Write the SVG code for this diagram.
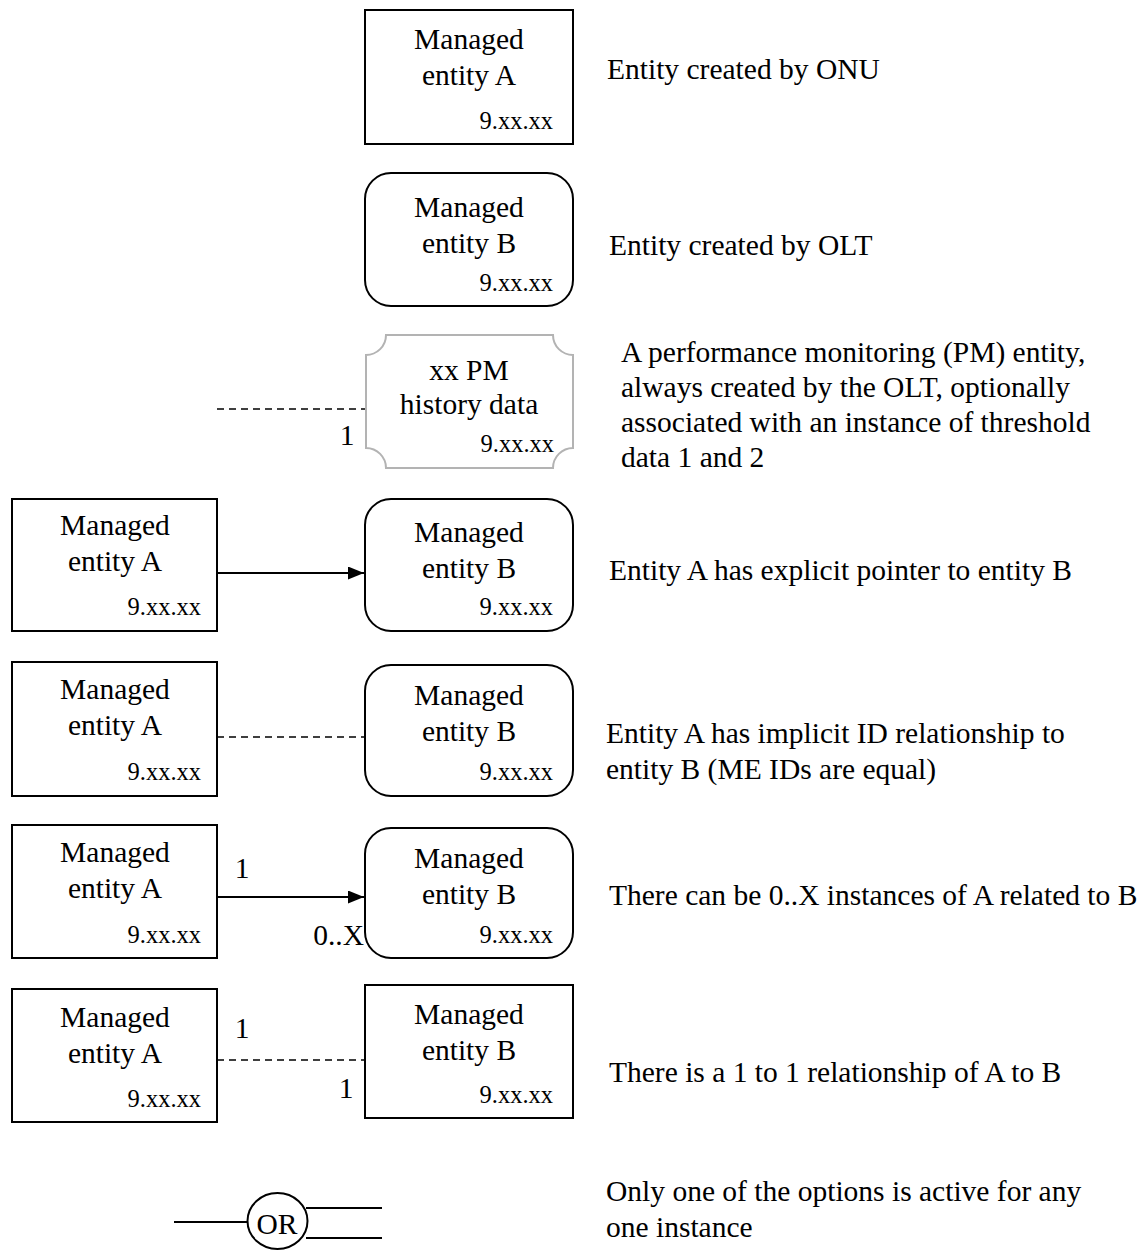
<svg xmlns="http://www.w3.org/2000/svg" width="1147" height="1252" viewBox="0 0 1147 1252">
<style>
text{font-family:"Liberation Serif","Times New Roman",serif;fill:#000}
.t{font-size:29.5px}
.c{text-anchor:middle}
.s{font-size:24.5px;text-anchor:end}
.box{fill:#fff;stroke:#000;stroke-width:2}
.pm{fill:#fff;stroke:#b3b3b3;stroke-width:2}
.ln{stroke:#000;stroke-width:2;fill:none}
.dash{stroke:#000;stroke-width:1.5;fill:none;stroke-dasharray:7,5}
</style>
<defs>
<marker id="ah" viewBox="0 0 16 13" refX="16" refY="6.5" markerWidth="16" markerHeight="13" markerUnits="userSpaceOnUse" orient="auto">
<path d="M0,0L16,6.5L0,13z" fill="#000"/>
</marker>
</defs>
<g id="connectors">
<line class="dash" x1="217" y1="409" x2="366" y2="409"/>
<line class="ln" x1="217" y1="573" x2="364" y2="573" marker-end="url(#ah)"/>
<line class="dash" x1="217" y1="737" x2="365" y2="737"/>
<line class="ln" x1="217" y1="897" x2="364" y2="897" marker-end="url(#ah)"/>
<line class="dash" x1="217" y1="1060" x2="365" y2="1060"/>
<line class="ln" x1="174" y1="1222" x2="248" y2="1222"/>
<line class="ln" x1="306" y1="1208" x2="382" y2="1208"/>
<line class="ln" x1="306" y1="1238" x2="382" y2="1238"/>
</g>
<g id="labels">
<text class="t" x="347" y="445" text-anchor="middle">1</text>
<text class="t" x="242" y="878" text-anchor="middle">1</text>
<text class="t" x="364" y="945" text-anchor="end">0..X</text>
<text class="t" x="242" y="1038" text-anchor="middle">1</text>
<text class="t" x="346" y="1098" text-anchor="middle">1</text>
</g>
<g id="r1a">
<rect class="box" x="365" y="10" width="208" height="134"/>
<text class="t c" x="469" y="49">Managed</text>
<text class="t c" x="469" y="85">entity A</text>
<text class="s" x="553" y="129">9.xx.xx</text>
</g>
<g id="r2b">
<rect class="box" x="365" y="173" width="208" height="133" rx="26"/>
<text class="t c" x="469" y="217">Managed</text>
<text class="t c" x="469" y="253">entity B</text>
<text class="s" x="553" y="291">9.xx.xx</text>
</g>
<g id="r3pm">
<path class="pm" d="M386,335 H553 A20,20 0 0 0 573,355 V448 A20,20 0 0 0 553,468 H386 A20,20 0 0 0 366,448 V355 A20,20 0 0 0 386,335 Z"/>
<text class="t c" x="469" y="380">xx PM</text>
<text class="t c" x="469" y="414">history data</text>
<text class="s" x="554" y="452">9.xx.xx</text>
</g>
<g id="r4a">
<rect class="box" x="12" y="499" width="205" height="132"/>
<text class="t c" x="115" y="535">Managed</text>
<text class="t c" x="115" y="571">entity A</text>
<text class="s" x="201" y="615">9.xx.xx</text>
</g>
<g id="r4b">
<rect class="box" x="365" y="499" width="208" height="132" rx="26"/>
<text class="t c" x="469" y="542">Managed</text>
<text class="t c" x="469" y="578">entity B</text>
<text class="s" x="553" y="615">9.xx.xx</text>
</g>
<g id="r5a">
<rect class="box" x="12" y="662" width="205" height="134"/>
<text class="t c" x="115" y="699">Managed</text>
<text class="t c" x="115" y="735">entity A</text>
<text class="s" x="201" y="780">9.xx.xx</text>
</g>
<g id="r5b">
<rect class="box" x="365" y="665" width="208" height="131" rx="26"/>
<text class="t c" x="469" y="705">Managed</text>
<text class="t c" x="469" y="741">entity B</text>
<text class="s" x="553" y="780">9.xx.xx</text>
</g>
<g id="r6a">
<rect class="box" x="12" y="825" width="205" height="133"/>
<text class="t c" x="115" y="862">Managed</text>
<text class="t c" x="115" y="898">entity A</text>
<text class="s" x="201" y="943">9.xx.xx</text>
</g>
<g id="r6b">
<rect class="box" x="365" y="828" width="208" height="130" rx="26"/>
<text class="t c" x="469" y="868">Managed</text>
<text class="t c" x="469" y="904">entity B</text>
<text class="s" x="553" y="943">9.xx.xx</text>
</g>
<g id="r7a">
<rect class="box" x="12" y="989" width="205" height="133"/>
<text class="t c" x="115" y="1027">Managed</text>
<text class="t c" x="115" y="1063">entity A</text>
<text class="s" x="201" y="1107">9.xx.xx</text>
</g>
<g id="r7b">
<rect class="box" x="365" y="985" width="208" height="133"/>
<text class="t c" x="469" y="1024">Managed</text>
<text class="t c" x="469" y="1060">entity B</text>
<text class="s" x="553" y="1103">9.xx.xx</text>
</g>
<g id="or">
<ellipse class="ln" cx="277.5" cy="1221" rx="30" ry="28"/>
<text class="t c" x="277" y="1234">OR</text>
</g>
<g id="descriptions">
<text class="t" x="607" y="79">Entity created by ONU</text>
<text class="t" x="609" y="255">Entity created by OLT</text>
<text class="t" x="621" y="362">A performance monitoring (PM) entity,</text>
<text class="t" x="621" y="397">always created by the OLT, optionally</text>
<text class="t" x="621" y="432">associated with an instance of threshold</text>
<text class="t" x="621" y="467">data 1 and 2</text>
<text class="t" x="609" y="580">Entity A has explicit pointer to entity B</text>
<text class="t" x="606" y="743">Entity A has implicit ID relationship to</text>
<text class="t" x="606" y="779">entity B (ME IDs are equal)</text>
<text class="t" x="609" y="905">There can be 0..X instances of A related to B</text>
<text class="t" x="609" y="1082">There is a 1 to 1 relationship of A to B</text>
<text class="t" x="606" y="1201">Only one of the options is active for any</text>
<text class="t" x="606" y="1237">one instance</text>
</g>
</svg>
